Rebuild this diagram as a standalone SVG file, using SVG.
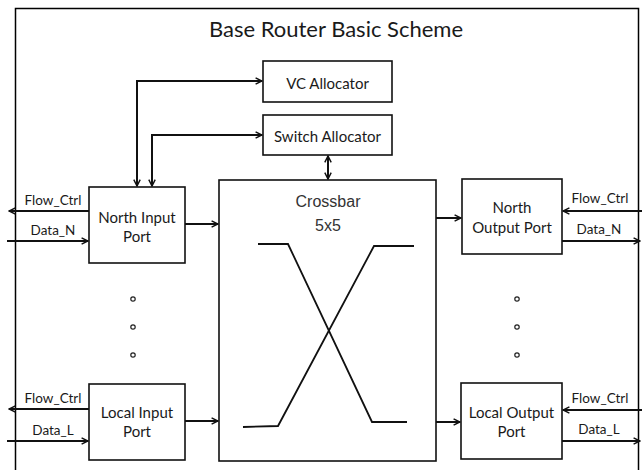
<svg xmlns="http://www.w3.org/2000/svg" width="642" height="470" viewBox="0 0 642 470">
  <style>
    .frame { fill: #fff; stroke: #000; stroke-width: 1.5; }
    .box { fill: #fff; stroke: #111; stroke-width: 1.6; }
    .wire { fill: none; stroke: #111; stroke-width: 2; }
    .xline { fill: none; stroke: #111; stroke-width: 1.8; }
    .lbl { font-family: Lato, "Open Sans", sans-serif; fill: #1a1a1a; text-anchor: middle; }
    .title { font-size: 22px; }
    .node { font-size: 15px; }
    .pin { font-size: 13.5px; }
    .xb { font-family: "Liberation Sans", Arial, sans-serif; font-size: 16px; fill: #333; text-anchor: middle; }
    .dot { fill: none; stroke: #222; stroke-width: 1.2; }
  </style>
  <defs>
    <marker id="arr" viewBox="0 0 10 10" refX="9" refY="5" markerWidth="8" markerHeight="8" markerUnits="userSpaceOnUse" orient="auto-start-reverse">
      <path d="M1,1 L9,5 L1,9" fill="none" stroke="#111" stroke-width="1.8"/>
    </marker>
  </defs>

  <!-- outer frame and heading -->
  <rect class="frame" x="15.5" y="8.5" width="623" height="480"/>
  <text class="lbl title" x="336" y="37">Base Router Basic Scheme</text>

  <g id="vc-allocator">
    <rect class="box" x="263" y="61" width="129" height="41"/>
    <text class="lbl node" x="327.5" y="89">VC Allocator</text>
  </g>

  <g id="switch-allocator">
    <rect class="box" x="263" y="115" width="129" height="40"/>
    <text class="lbl node" x="327.5" y="142">Switch Allocator</text>
  </g>

  <g id="crossbar">
    <rect class="box" x="219" y="180" width="217" height="281"/>
    <text class="xb" x="328" y="207">Crossbar</text>
    <text class="xb" x="328" y="231">5x5</text>
    <polyline class="xline" points="258,244 288,244 372,422 407,422"/>
    <polyline class="xline" points="243,427 278,426 374,246 414,246"/>
  </g>

  <g id="north-input-port">
    <rect class="box" x="89" y="187" width="96" height="76"/>
    <text class="lbl node" x="137" y="223">North Input</text>
    <text class="lbl node" x="137" y="242">Port</text>
  </g>

  <g id="local-input-port">
    <rect class="box" x="89" y="384" width="96" height="76"/>
    <text class="lbl node" x="137" y="418">Local Input</text>
    <text class="lbl node" x="137" y="437">Port</text>
  </g>

  <g id="north-output-port">
    <rect class="box" x="462" y="179" width="100" height="75"/>
    <text class="lbl node" x="512" y="213">North</text>
    <text class="lbl node" x="512" y="233">Output Port</text>
  </g>

  <g id="local-output-port">
    <rect class="box" x="461" y="383" width="101" height="76"/>
    <text class="lbl node" x="511.5" y="418">Local Output</text>
    <text class="lbl node" x="511.5" y="437">Port</text>
  </g>

  <!-- ellipsis between north and local ports -->
  <g id="port-ellipsis">
    <circle class="dot" cx="133" cy="299" r="2.2"/>
    <circle class="dot" cx="133" cy="327" r="2.2"/>
    <circle class="dot" cx="133" cy="355" r="2.2"/>
    <circle class="dot" cx="517" cy="299" r="2.2"/>
    <circle class="dot" cx="517" cy="327" r="2.2"/>
    <circle class="dot" cx="517" cy="355" r="2.2"/>
  </g>

  <g id="connectors">
    <!-- allocator links -->
    <path class="wire" d="M137,186 V81 H262" marker-start="url(#arr)" marker-end="url(#arr)"/>
    <path class="wire" d="M152,186 V135 H262" marker-start="url(#arr)" marker-end="url(#arr)"/>
    <path class="wire" d="M328,156 V179" marker-start="url(#arr)" marker-end="url(#arr)"/>
    <!-- ports to/from crossbar -->
    <path class="wire" d="M185,224 H218" marker-end="url(#arr)"/>
    <path class="wire" d="M185,421 H218" marker-end="url(#arr)"/>
    <path class="wire" d="M436,218 H461" marker-end="url(#arr)"/>
    <path class="wire" d="M436,422 H460" marker-end="url(#arr)"/>
    <!-- west side links -->
    <path class="wire" d="M89,211 H9" marker-end="url(#arr)"/>
    <path class="wire" d="M7,241 H88" marker-end="url(#arr)"/>
    <path class="wire" d="M89,409 H9" marker-end="url(#arr)"/>
    <path class="wire" d="M7,441 H88" marker-end="url(#arr)"/>
    <!-- east side links -->
    <path class="wire" d="M642,211 H563" marker-end="url(#arr)"/>
    <path class="wire" d="M562,241 H640" marker-end="url(#arr)"/>
    <path class="wire" d="M642,410 H563" marker-end="url(#arr)"/>
    <path class="wire" d="M562,441 H640" marker-end="url(#arr)"/>
  </g>

  <g id="link-labels">
    <text class="lbl pin" x="53" y="205">Flow_Ctrl</text>
    <text class="lbl pin" x="53" y="235">Data_N</text>
    <text class="lbl pin" x="53" y="403">Flow_Ctrl</text>
    <text class="lbl pin" x="53" y="435">Data_L</text>
    <text class="lbl pin" x="600" y="203">Flow_Ctrl</text>
    <text class="lbl pin" x="599" y="234">Data_N</text>
    <text class="lbl pin" x="600" y="403">Flow_Ctrl</text>
    <text class="lbl pin" x="599" y="434">Data_L</text>
  </g>
</svg>
